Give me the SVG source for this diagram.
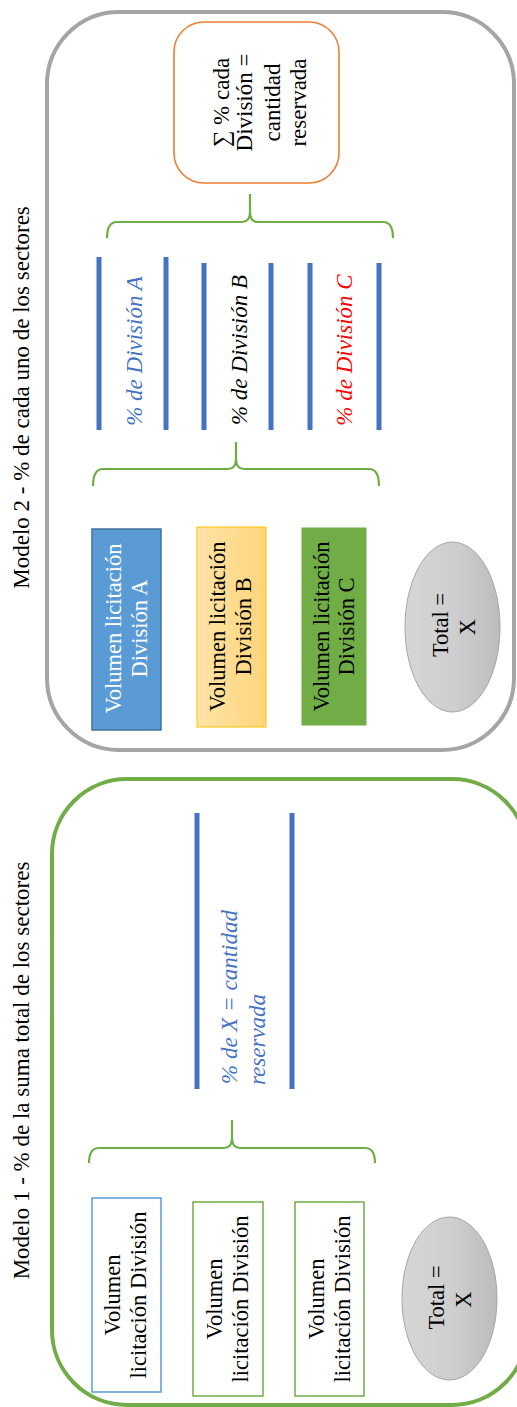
<svg xmlns="http://www.w3.org/2000/svg" width="517" height="1407" viewBox="0 0 517 1407">
<defs>
<linearGradient id="gY" x1="0" y1="0" x2="1" y2="0"><stop offset="0" stop-color="#FFE4A8"/><stop offset="1" stop-color="#FFD47A"/></linearGradient>
<linearGradient id="gG" x1="0" y1="0" x2="1" y2="0"><stop offset="0" stop-color="#D6D6D6"/><stop offset="0.5" stop-color="#CFCFCF"/><stop offset="1" stop-color="#BCBCBC"/></linearGradient>
<style>
text{font-family:"Liberation Serif","Times New Roman",serif;font-size:23px;text-anchor:middle}
.it{font-style:italic}
.bar{stroke:#4472C4;stroke-width:5;fill:none}
.brace{stroke:#70AD47;stroke-width:2.2;fill:none}
.box{font-size:22.5px}
</style>
</defs>

<g id="modelo2">
<rect x="47" y="12" width="467" height="738" rx="72" ry="72" fill="#fff" stroke="#A5A5A5" stroke-width="4"/>
<text transform="translate(28.5,397.5) rotate(-90)">Modelo 2 - % de cada uno de los sectores</text>
</g>

<g id="modelo1">
<rect x="52" y="779" width="475" height="626" rx="75" ry="75" fill="#fff" stroke="#70AD47" stroke-width="4"/>
<text transform="translate(28.5,1070.5) rotate(-90)">Modelo 1 - % de la suma total de los sectores</text>
</g>

<g id="suma">
<rect x="174" y="22" width="165" height="161" rx="30" ry="30" fill="#fff" stroke="#ED7D31" stroke-width="1.6"/>
<text transform="translate(229,102.5) rotate(-90)"><tspan x="0" y="0">∑ % cada</tspan><tspan x="0" y="23">División =</tspan><tspan x="0" y="51">cantidad</tspan><tspan x="0" y="77">reservada</tspan></text>
</g>

<g id="connectors">
<path class="brace" d="M107,238 Q107,222 117,222 L242,222 Q250,222 250,212 L250,194 M250,212 Q250,222 258,222 L383,222 Q393,222 393,238"/>
<path class="brace" d="M93,486 Q93,469 103,469 L228,469 Q236,469 236,459 L236,442 M236,459 Q236,469 244,469 L369,469 Q379,469 379,486"/>
<path class="brace" d="M89,1163 Q89,1148 99,1148 L224,1148 Q232,1148 232,1138 L232,1120 M232,1138 Q232,1148 240,1148 L365,1148 Q375,1148 375,1163"/>
</g>

<g id="pctA">
<line class="bar" x1="99" y1="257" x2="99" y2="430"/>
<line class="bar" x1="166" y1="257" x2="166" y2="430"/>
<text class="it" fill="#4472C4" transform="translate(141.5,351) rotate(-90)">% de División A</text>
</g>
<g id="pctB">
<line class="bar" x1="204" y1="263" x2="204" y2="430"/>
<line class="bar" x1="271" y1="263" x2="271" y2="430"/>
<text class="it" fill="#000" transform="translate(247,350) rotate(-90)">% de División B</text>
</g>
<g id="pctC">
<line class="bar" x1="310" y1="263" x2="310" y2="430"/>
<line class="bar" x1="379" y1="263" x2="379" y2="430"/>
<text class="it" fill="#FF0000" transform="translate(352,350) rotate(-90)">% de División C</text>
</g>

<g id="volA2">
<rect x="92" y="529" width="69" height="201" fill="#5B9BD5" stroke="#41719C" stroke-width="1.5"/>
<text class="box" fill="#fff" transform="translate(121,628.5) rotate(-90)"><tspan x="0" y="0">Volumen licitación</tspan><tspan x="0" y="25.5">División A</tspan></text>
</g>
<g id="volB2">
<rect x="197" y="527" width="69" height="200" fill="url(#gY)" stroke="#FFC000" stroke-width="1"/>
<text class="box" fill="#000" transform="translate(225,626.5) rotate(-90)"><tspan x="0" y="0">Volumen licitación</tspan><tspan x="0" y="25.5">División B</tspan></text>
</g>
<g id="volC2">
<rect x="302" y="528" width="64" height="197" fill="#70AD47" stroke="#70AD47" stroke-width="1"/>
<text class="box" fill="#000" transform="translate(329,626.5) rotate(-90)"><tspan x="0" y="0">Volumen licitación</tspan><tspan x="0" y="25">División C</tspan></text>
</g>
<g id="total2">
<ellipse cx="452.5" cy="627" rx="47.5" ry="85" fill="url(#gG)" stroke="#A5A5A5" stroke-width="1"/>
<text class="box" fill="#000" transform="translate(448,625) rotate(-90)"><tspan x="0" y="0">Total =</tspan><tspan x="-2" y="26.5">X</tspan></text>
</g>

<g id="pctX">
<line class="bar" x1="197" y1="813" x2="197" y2="1089"/>
<line class="bar" x1="292" y1="813" x2="292" y2="1089"/>
<text class="it" fill="#4472C4" style="text-anchor:start" transform="translate(237,1084) rotate(-90)"><tspan x="0" y="0">% de X = cantidad</tspan><tspan x="-1" y="28">reservada</tspan></text>
</g>

<g id="vol1">
<rect x="92" y="1198" width="69" height="194" fill="#fff" stroke="#5B9BD5" stroke-width="1.5"/>
<text class="box" fill="#000" transform="translate(120,1295) rotate(-90)"><tspan x="0" y="0">Volumen</tspan><tspan x="0" y="26">licitación División</tspan></text>
</g>
<g id="vol2">
<rect x="193" y="1202" width="70" height="194" fill="#fff" stroke="#70AD47" stroke-width="1.5"/>
<text class="box" fill="#000" transform="translate(222,1299) rotate(-90)"><tspan x="0" y="0">Volumen</tspan><tspan x="0" y="25.5">licitación División</tspan></text>
</g>
<g id="vol3">
<rect x="295" y="1202" width="69" height="194" fill="#fff" stroke="#70AD47" stroke-width="1.5"/>
<text class="box" fill="#000" transform="translate(324,1299) rotate(-90)"><tspan x="0" y="0">Volumen</tspan><tspan x="0" y="25.5">licitación División</tspan></text>
</g>
<g id="total1">
<ellipse cx="449.5" cy="1298.5" rx="47.5" ry="81.5" fill="url(#gG)" stroke="#A5A5A5" stroke-width="1"/>
<text class="box" fill="#000" transform="translate(444,1297.5) rotate(-90)"><tspan x="0" y="0">Total =</tspan><tspan x="-2" y="27">X</tspan></text>
</g>
</svg>
